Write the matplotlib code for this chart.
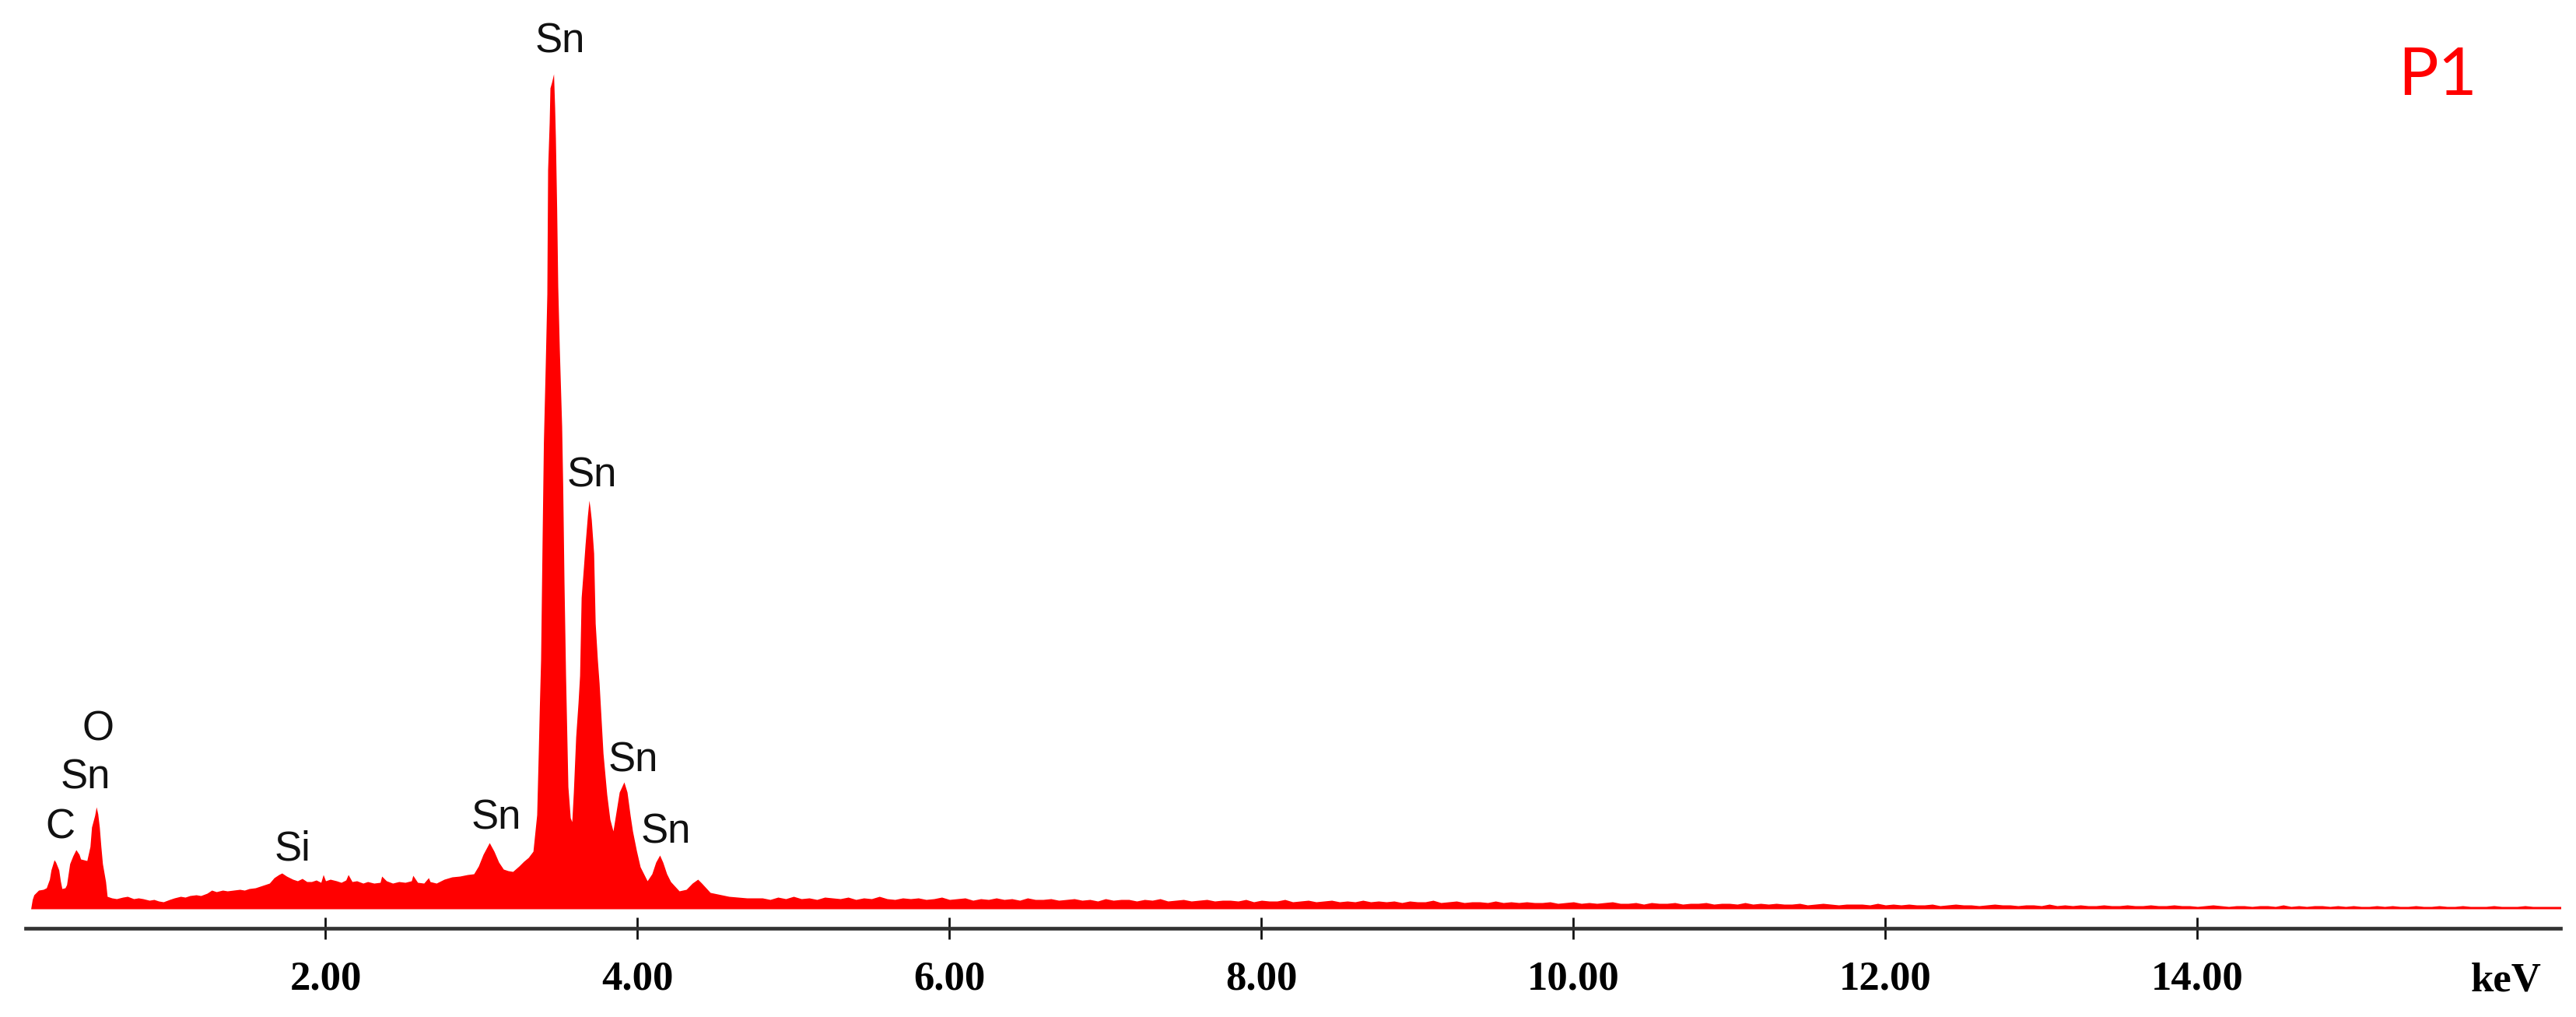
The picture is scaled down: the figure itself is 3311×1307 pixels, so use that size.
import numpy as np
import matplotlib
matplotlib.use("Agg")
import matplotlib.pyplot as plt

# ---------------- data (energy in keV, counts in arbitrary units) ----------------
low_kev = [0.11, 0.12, 0.13, 0.16, 0.19, 0.21, 0.23, 0.24, 0.26, 0.27, 0.29, 0.30,
           0.31, 0.33, 0.34, 0.36, 0.38, 0.40, 0.42, 0.43, 0.45, 0.47, 0.49, 0.50,
           0.52, 0.53, 0.54, 0.55, 0.56, 0.57, 0.59]
low_counts = [0, 12, 18, 24, 25, 27, 38, 50, 63, 60, 50, 36,
              26, 27, 31, 58, 68, 76, 70, 64, 63, 62, 80, 105,
              120, 131, 122, 105, 80, 58, 35]

bg_kev = [0.60, 0.63, 0.66, 0.70, 0.73, 0.77, 0.80, 0.83, 0.87, 0.90, 0.93, 0.96,
          1.00, 1.03, 1.07, 1.10, 1.13, 1.17, 1.20, 1.24, 1.27, 1.30, 1.34, 1.37,
          1.41, 1.45, 1.48, 1.51, 1.55, 1.58, 1.61, 1.64, 1.67, 1.70, 1.72, 1.75,
          1.79, 1.82, 1.85, 1.88, 1.91, 1.94, 1.97, 1.985, 2.00, 2.03, 2.07, 2.10,
          2.13, 2.145, 2.17, 2.20, 2.24, 2.27, 2.31, 2.35, 2.36, 2.39, 2.43, 2.47,
          2.51, 2.55, 2.56, 2.59, 2.63, 2.66, 2.67, 2.71, 2.76, 2.81, 2.86, 2.91,
          2.95, 2.98, 3.01, 3.05, 3.08, 3.11, 3.14, 3.17, 3.20, 3.24, 3.27, 3.30,
          3.33]
bg_counts = [16, 14, 13, 15, 16, 13, 14, 13, 11, 12, 10, 9,
             12, 14, 16, 15, 17, 18, 17, 20, 24, 22, 24, 23,
             24, 25, 24, 26, 27, 29, 31, 33, 40, 44, 46, 42,
             38, 36, 39, 35, 35, 37, 34, 44, 36, 38, 36, 34,
             37, 44, 35, 36, 33, 35, 33, 34, 42, 36, 33, 35,
             34, 36, 43, 34, 33, 40, 35, 33, 38, 41, 42, 44,
             45, 55, 70, 85, 74, 60, 51, 49, 48, 55, 61, 66,
             74]

peak_kev = [3.354, 3.364, 3.371, 3.379, 3.389, 3.397, 3.409, 3.419, 3.424, 3.434,
            3.439, 3.449, 3.462, 3.469, 3.474, 3.482, 3.489, 3.499, 3.514, 3.521,
            3.529, 3.539, 3.554, 3.569, 3.579, 3.589, 3.604, 3.619, 3.629, 3.639,
            3.654, 3.664, 3.679, 3.689, 3.696, 3.704, 3.719, 3.729, 3.743, 3.754,
            3.779, 3.803, 3.823, 3.843, 3.863, 3.883, 3.913, 3.933, 3.953, 3.968,
            3.993, 4.017, 4.062, 4.092, 4.117, 4.142, 4.162, 4.187, 4.212, 4.267,
            4.312, 4.351, 4.386, 4.411, 4.466, 4.586, 4.701]
peak_counts = [121, 200, 260, 320, 480, 600, 700, 790, 950, 1010,
               1055, 1062, 1073, 1030, 990, 900, 800, 720, 620, 540,
               420, 300, 157, 117, 112, 150, 221, 265, 300, 400,
               440, 468, 505, 525, 515, 500, 457, 367, 320, 290,
               200, 147, 115, 100, 125, 150, 163, 150, 120, 100,
               75, 54, 36, 45, 60, 69, 60, 45, 35, 23,
               25, 33, 38, 33, 21, 16, 14]

# tail: channels every 0.05 keV from 4.80 to 16.30 keV
tail_start_kev, tail_step_kev = 4.80, 0.05
tail_counts = [14, 12, 15, 13, 16, 13, 14, 12, 15, 14, 13, 15, 12, 14, 13, 16, 13, 12, 14, 13,
               14, 12, 13, 15, 12, 13, 14, 11, 13, 12, 14, 12, 13, 11, 14, 12, 12, 13, 11, 12,
               13, 11, 12, 10, 13, 11, 12, 12, 10, 12, 11, 13, 10, 11, 12, 10, 11, 12, 10, 11,
               11, 10, 12, 9, 11, 10, 10, 12, 9, 10, 11, 9, 10, 11, 9, 10, 9, 11, 9, 10,
               9, 10, 8, 10, 9, 9, 11, 8, 9, 10, 8, 9, 9, 8, 10, 8, 9, 8, 9, 8,
               8, 9, 7, 8, 9, 7, 8, 7, 8, 9, 7, 7, 8, 6, 8, 7, 7, 8, 6, 7,
               7, 8, 6, 7, 7, 6, 8, 6, 7, 6, 7, 6, 6, 7, 5, 6, 7, 6, 5, 6,
               6, 6, 5, 7, 5, 6, 5, 6, 5, 5, 6, 4, 5, 6, 5, 5, 4, 5, 6, 5,
               5, 4, 5, 5, 4, 6, 4, 5, 4, 5, 4, 4, 5, 4, 4, 5, 4, 4, 5, 4,
               4, 5, 4, 4, 3, 4, 5, 4, 3, 4, 4, 3, 4, 4, 3, 5, 3, 4, 3, 4,
               4, 3, 4, 3, 4, 3, 3, 4, 3, 4, 3, 3, 4, 3, 3, 4, 3, 3, 4, 3,
               3, 3, 4, 3, 3, 3, 4, 3, 3, 3, 3]

peak_labels = ["C", "Sn", "O", "Si", "Sn", "Sn", "Sn", "Sn", "Sn"]
label_kev = [0.297, 0.461, 0.541, 1.79, 3.095, 3.504, 3.708, 3.97, 4.18]
label_height = [110, 173, 236, 82, 121, 1119, 561, 196, 104]

tick_values = [2, 4, 6, 8, 10, 12, 14]
tick_labels = ["2.00", "4.00", "6.00", "8.00", "10.00", "12.00", "14.00"]
x_unit = "keV"
panel_tag = "P1"

# ---------------- assemble spectrum ----------------
tail_kev = list(np.round(tail_start_kev + tail_step_kev * np.arange(len(tail_counts)), 3))
energy = np.array(low_kev + bg_kev + peak_kev + tail_kev + [16.33])
counts = np.array(low_counts + bg_counts + peak_counts + tail_counts + [3])

# ---------------- figure ----------------
W, H = 3311, 1307
fig = plt.figure(figsize=(W / 100, H / 100), dpi=100)
ax_left, ax_right = 33 / W, 3291 / W
ax_bottom = (H - 1193) / H
ax = fig.add_axes([ax_left, ax_bottom, ax_right - ax_left, 1 - ax_bottom])

ax.fill_between(energy, counts, 0, color="#ff0000", linewidth=0)

ax.set_xlim(0.0773, 16.327)
ax.set_ylim(-25, 1168)

for s in ("top", "left", "right"):
    ax.spines[s].set_visible(False)
ax.spines["bottom"].set_color("#333333")
ax.spines["bottom"].set_linewidth(3.4)
ax.set_yticks([])
ax.set_xticks(tick_values)
ax.set_xticklabels(tick_labels)
ax.tick_params(axis="x", direction="inout", length=20, width=2.0, color="#111111",
               pad=20, labelsize=38)
for lab in ax.get_xticklabels():
    lab.set_fontfamily("Liberation Serif")
    lab.set_fontweight("bold")

label_font = ["Liberation Sans Narrow", "Liberation Sans", "DejaVu Sans"]
for txt, xk, hk in zip(peak_labels, label_kev, label_height):
    ax.text(xk, hk - 19, txt, ha="center", va="baseline", fontsize=38,
            family=label_font, color="#111111")

fig.text(3221 / W, 1 - 1273 / H, x_unit, ha="center", va="baseline",
         fontsize=38, fontweight="bold", family="Liberation Serif", color="black")
fig.text(3133 / W, 1 - 122 / H, panel_tag, ha="center", va="baseline",
         fontsize=62, family=["Lato", "DejaVu Sans"], color="#ff0000")

fig.savefig("out.png", dpi=100, facecolor="white")
